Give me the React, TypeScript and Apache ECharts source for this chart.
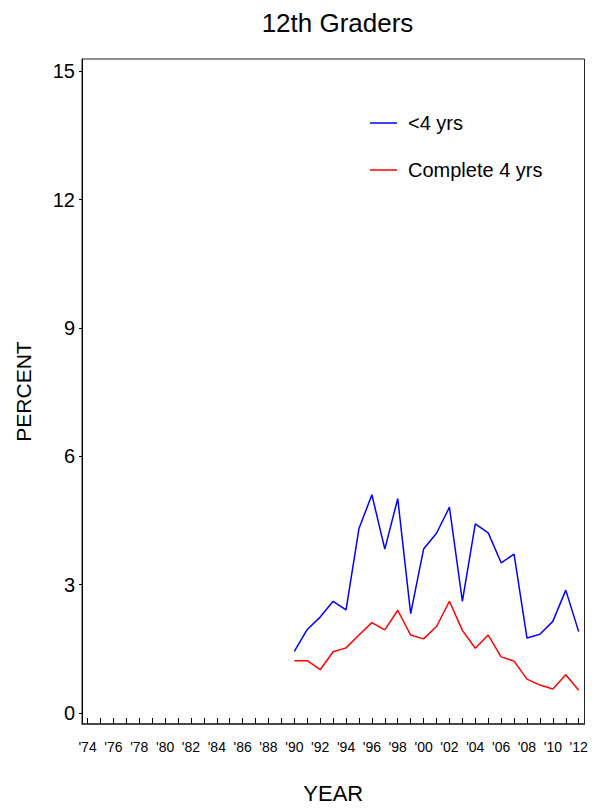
import React, { useEffect, useRef } from "react";
import * as echarts from "echarts";

const years = [1990, 1991, 1992, 1993, 1994, 1995, 1996, 1997, 1998, 1999, 2000, 2001, 2002, 2003, 2004, 2005, 2006, 2007, 2008, 2009, 2010, 2011, 2012];
const lessThan4 = [1.44, 1.95, 2.24, 2.61, 2.41, 4.31, 5.1, 3.83, 5.01, 2.32, 3.83, 4.2, 4.81, 2.61, 4.42, 4.21, 3.51, 3.71, 1.75, 1.84, 2.14, 2.87, 1.9];
const complete4 = [1.22, 1.22, 1.01, 1.43, 1.52, 1.82, 2.11, 1.94, 2.4, 1.82, 1.73, 2.02, 2.61, 1.93, 1.51, 1.82, 1.31, 1.21, 0.79, 0.65, 0.56, 0.89, 0.53];
const yTicks = [0, 3, 6, 9, 12, 15];
const xTickYears = Array.from({ length: 39 }, (_, i) => 1974 + i);
const xLabelYears = xTickYears.filter((y) => y % 2 === 0);
const seriesNames = ["<4 yrs", "Complete 4 yrs"];
const chartTitle = "12th Graders";

const FONT = "'Liberation Sans', Arial, Helvetica, sans-serif";

export default function App() {
  const ref = useRef<HTMLDivElement>(null);
  useEffect(() => {
    if (!ref.current) return;
    const chart = echarts.init(ref.current, null, { renderer: "svg" });
    chart.setOption({
      animation: false,
      backgroundColor: "#fff",
      textStyle: { fontFamily: FONT },
      graphic: [
        {
          type: "text",
          x: 337.5,
          y: 23,
          style: {
            text: chartTitle,
            fontSize: 26,
            fontFamily: FONT,
            fill: "#000",
            textAlign: "center",
            textVerticalAlign: "middle",
          },
        },
      ],
      grid: {
        left: 82,
        right: 9.5,
        top: 59,
        bottom: 78.5,
        show: true,
        borderColor: "#222",
        borderWidth: 1,
        backgroundColor: "transparent",
      },
      legend: {
        data: seriesNames,
        orient: "vertical",
        left: 370,
        top: 111,
        padding: 0,
        itemWidth: 27,
        itemHeight: 1.5,
        itemGap: 23,
        icon: "rect",
        textStyle: { fontSize: 20, lineHeight: 24, color: "#000", fontFamily: FONT, padding: [0, 0, 0, 6] },
      },
      xAxis: {
        type: "value",
        min: 1973.57,
        max: 2012.45,
        name: "YEAR",
        nameLocation: "middle",
        nameGap: 58,
        nameTextStyle: { fontSize: 22, color: "#000", fontFamily: FONT },
        splitLine: { show: false },
        axisLine: { show: true, onZero: false, lineStyle: { color: "#333", width: 1.5 } },
        axisTick: { show: true, inside: true, length: 6, customValues: xTickYears, lineStyle: { color: "#000", width: 1 } },
        axisLabel: {
          customValues: xLabelYears,
          margin: 16,
          fontSize: 14,
          color: "#000",
          fontFamily: FONT,
          formatter: (v: number) => "'" + String(Math.round(v)).slice(2),
        },
      },
      yAxis: {
        type: "value",
        min: -0.26,
        max: 15.29,
        name: "PERCENT",
        nameLocation: "middle",
        nameRotate: 90,
        nameGap: 48,
        nameTextStyle: { fontSize: 21, color: "#000", fontFamily: FONT },
        splitLine: { show: false },
        axisLine: { show: true, onZero: false, lineStyle: { color: "#000", width: 1 } },
        axisTick: { show: true, inside: false, length: 3, customValues: yTicks, lineStyle: { color: "#000", width: 1 } },
        axisLabel: { customValues: yTicks, margin: 7, fontSize: 20, color: "#000", fontFamily: FONT },
      },
      series: [
        {
          name: seriesNames[0],
          type: "line",
          data: years.map((y, i) => [y, lessThan4[i]]),
          showSymbol: false,
          symbol: "none",
          color: "#0000ff",
          lineStyle: { color: "#0000ff", width: 1.5 },
        },
        {
          name: seriesNames[1],
          type: "line",
          data: years.map((y, i) => [y, complete4[i]]),
          showSymbol: false,
          symbol: "none",
          color: "#ff0000",
          lineStyle: { color: "#ff0000", width: 1.5 },
        },
      ],
    });
    return () => chart.dispose();
  }, []);
  return <div ref={ref} style={{ width: 594, height: 809, position: "absolute", left: 0, top: 0 }} />;
}
